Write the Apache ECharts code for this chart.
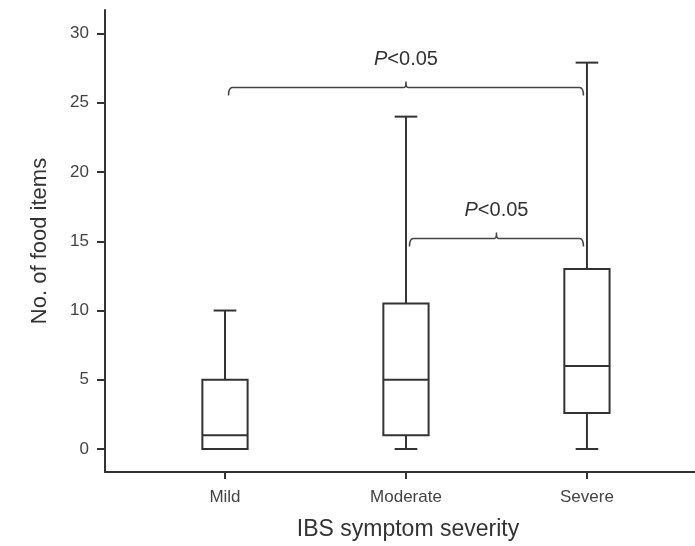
<!DOCTYPE html>
<html>
<head>
<meta charset="utf-8">
<script src="https://cdn.jsdelivr.net/npm/echarts@6/dist/echarts.min.js"></script>
<style>
  html, body { margin: 0; padding: 0; background: #fff; }
  #chart { width: 695px; height: 546px; }
</style>
</head>
<body>
<div id="chart"></div>
<script>
// categories and box statistics
var categories = ['Mild', 'Moderate', 'Severe'];
var mins    = [0, 0, 0];
var q1s     = [0, 1, 2.6];
var medians = [1, 5, 6];
var q3s     = [5, 10.5, 13];
var maxs    = [10, 24, 27.9];

// significance brackets: category index from/to, height, label
var bracketFrom  = [0, 1];
var bracketTo    = [2, 2];
var bracketLevel = [26.1, 15.2];
var bracketText  = ['P<0.05', 'P<0.05'];

var yTicks = [0, 5, 10, 15, 20, 25, 30];
var xTicks = [0, 1, 2];

var FONT = '"Liberation Sans", Arial, Helvetica, sans-serif';
var INK = '#333';

var boxData = categories.map(function (c, i) {
  return [i, mins[i], q1s[i], medians[i], q3s[i], maxs[i]];
});
var bracketData = bracketFrom.map(function (f, i) {
  return [f, bracketTo[i], bracketLevel[i], i];
});

function renderBox(params, api) {
  var x = api.value(0);
  var lo = api.coord([x, api.value(1)]);
  var q1 = api.coord([x, api.value(2)]);
  var md = api.coord([x, api.value(3)]);
  var q3 = api.coord([x, api.value(4)]);
  var hi = api.coord([x, api.value(5)]);
  var half = api.size([0.25, 0])[0] / 2;
  var cap = api.size([0.125, 0])[0] / 2;
  var cx = lo[0];
  var st = { stroke: INK, lineWidth: 2, fill: null };
  return {
    type: 'group',
    children: [
      { type: 'line', shape: { x1: cx, y1: q3[1], x2: cx, y2: hi[1] }, style: st },
      { type: 'line', shape: { x1: cx, y1: q1[1], x2: cx, y2: lo[1] }, style: st },
      { type: 'line', shape: { x1: cx - cap, y1: hi[1], x2: cx + cap, y2: hi[1] }, style: st },
      { type: 'line', shape: { x1: cx - cap, y1: lo[1], x2: cx + cap, y2: lo[1] }, style: st },
      { type: 'rect', shape: { x: cx - half, y: q3[1], width: half * 2, height: q1[1] - q3[1] },
        style: { stroke: INK, lineWidth: 2, fill: 'rgba(0,0,0,0)' } },
      { type: 'line', shape: { x1: cx - half, y1: md[1], x2: cx + half, y2: md[1] }, style: st }
    ]
  };
}

function renderBracket(params, api) {
  var a = api.coord([api.value(0), api.value(2)]);
  var b = api.coord([api.value(1), api.value(2)]);
  var y = a[1];
  var x0 = a[0] + 3.5, x1 = b[0] - 3.5, mid = (x0 + x1) / 2;
  var d = 'M' + x0 + ' ' + (y + 8) +
    ' Q' + x0 + ' ' + y + ' ' + (x0 + 4) + ' ' + y +
    ' L' + (mid - 2) + ' ' + y +
    ' Q' + mid + ' ' + y + ' ' + mid + ' ' + (y - 6) +
    ' Q' + mid + ' ' + y + ' ' + (mid + 2) + ' ' + y +
    ' L' + (x1 - 4) + ' ' + y +
    ' Q' + x1 + ' ' + y + ' ' + x1 + ' ' + (y + 8);
  var label = bracketText[api.value(3)];
  return {
    type: 'group',
    children: [
      { type: 'path', shape: { pathData: d }, style: { stroke: '#444', lineWidth: 1.5, fill: null } },
      { type: 'text', x: mid, y: y - 18,
        style: {
          text: '{i|' + label.charAt(0) + '}' + label.slice(1),
          align: 'center', verticalAlign: 'bottom',
          fill: INK, font: '20px ' + FONT,
          rich: { i: { fontStyle: 'italic', fontSize: 20, fontFamily: FONT, fill: INK } }
        } }
    ]
  };
}

var chart = echarts.init(document.getElementById('chart'));
chart.setOption({
  animation: false,
  backgroundColor: '#fff',
  grid: { left: 105, right: 0, top: 10, bottom: 73, containLabel: false },
  xAxis: {
    type: 'value', min: -0.663, max: 2.597,
    splitLine: { show: false },
    axisLine: { show: true, onZero: false, lineStyle: { color: INK, width: 2 } },
    axisTick: { show: true, length: 7, customValues: xTicks, lineStyle: { color: INK, width: 2 } },
    axisLabel: { customValues: xTicks, margin: 17, fontSize: 17, color: '#444', fontFamily: FONT,
      formatter: function (v) { return categories[Math.round(v)]; } },
    name: 'IBS symptom severity', nameLocation: 'middle', nameGap: 46,
    nameTextStyle: { fontSize: 23, color: INK, fontFamily: FONT, padding: [0, 0, 0, 16] }
  },
  yAxis: {
    type: 'value', min: -1.66, max: 31.7,
    splitLine: { show: false },
    axisLine: { show: true, onZero: false, lineStyle: { color: INK, width: 2 } },
    axisTick: { show: true, length: 8, customValues: yTicks, lineStyle: { color: INK, width: 2 } },
    axisLabel: { customValues: yTicks, margin: 16, fontSize: 17, color: '#444', fontFamily: FONT },
    name: 'No. of food items', nameLocation: 'middle', nameGap: 54,
    nameTextStyle: { fontSize: 22, color: INK, fontFamily: FONT }
  },
  series: [
    { type: 'custom', renderItem: renderBox, data: boxData, encode: { x: 0, y: [1, 2, 3, 4, 5] }, clip: false },
    { type: 'custom', renderItem: renderBracket, data: bracketData, encode: { x: [0, 1], y: 2 }, clip: false }
  ]
});
</script>
</body>
</html>
